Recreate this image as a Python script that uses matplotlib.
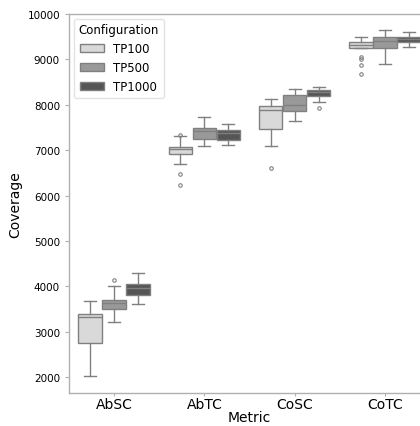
import matplotlib
matplotlib.use("Agg")
import matplotlib.pyplot as plt
from matplotlib.patches import Patch

metrics = ["AbSC", "AbTC", "CoSC", "CoTC"]
configs = ["TP100", "TP500", "TP1000"]
colors = ["#d9d9d9", "#999999", "#555555"]

# per configuration, per metric
whislo = {
    "TP100": [2020, 6700, 7100, 9250],
    "TP500": [3210, 7090, 7650, 8890],
    "TP1000": [3605, 7110, 8070, 9270],
}
q1 = {
    "TP100": [2745, 6920, 7460, 9255],
    "TP500": [3495, 7250, 7870, 9250],
    "TP1000": [3810, 7220, 8200, 9380],
}
med = {
    "TP100": [3325, 7015, 7895, 9315],
    "TP500": [3635, 7415, 7995, 9405],
    "TP1000": [3960, 7370, 8275, 9460],
}
q3 = {
    "TP100": [3385, 7075, 7975, 9375],
    "TP500": [3700, 7495, 8205, 9500],
    "TP1000": [4050, 7435, 8335, 9485],
}
whishi = {
    "TP100": [3675, 7310, 8130, 9500],
    "TP500": [4005, 7725, 8355, 9645],
    "TP1000": [4300, 7575, 8395, 9610],
}
fliers = {
    "TP100": [[], [7340, 6470, 6230], [6600], [9060, 9005, 8875, 8680]],
    "TP500": [[4130], [], [], []],
    "TP1000": [[], [], [7930], []],
}

fig = plt.figure(figsize=(4.2, 4.27), dpi=100)
fig.patch.set_facecolor("white")

ax = fig.add_axes([69 / 420, 33 / 427, 361 / 420, 379 / 427])

edge = "#808080"
bw = 0.8 / 3
for j, cfg in enumerate(configs):
    stats = []
    for i in range(len(metrics)):
        stats.append(dict(med=med[cfg][i], q1=q1[cfg][i], q3=q3[cfg][i],
                          whislo=whislo[cfg][i], whishi=whishi[cfg][i],
                          fliers=fliers[cfg][i]))
    pos = [i + (j - 1) * bw for i in range(len(metrics))]
    ax.bxp(stats, positions=pos, widths=bw * 0.98, patch_artist=True,
           boxprops=dict(facecolor=colors[j], edgecolor=edge, linewidth=1.0),
           medianprops=dict(color=edge, linewidth=1.0),
           whiskerprops=dict(color=edge, linewidth=1.0),
           capprops=dict(color=edge, linewidth=1.0),
           flierprops=dict(marker="o", markersize=2.5, markerfacecolor="none",
                           markeredgecolor=edge, markeredgewidth=0.8),
           capwidths=bw * 0.5, manage_ticks=False)

ax.set_xlim(-0.5, 3.5)
ax.set_ylim(1650, 10000)
ax.set_xticks(range(len(metrics)))
ax.set_xticklabels(metrics, fontsize=10)
ax.set_yticks([2000, 3000, 4000, 5000, 6000, 7000, 8000, 9000, 10000])
ax.tick_params(axis="y", labelsize=7.5, color="#b0b0b0", length=3)
ax.tick_params(axis="x", color="#b0b0b0", length=2, pad=1)
ax.set_xlabel("Metric", fontsize=10, labelpad=-1)
ax.set_ylabel("Coverage", fontsize=10, labelpad=4)
for s in ax.spines.values():
    s.set_color("#b0b0b0")
    s.set_linewidth(1.0)

handles = [Patch(facecolor=c, edgecolor=edge, linewidth=1.0) for c in colors]
leg = ax.legend(handles, configs, title="Configuration", loc="upper left",
                fontsize=8.5, title_fontsize=8.5, frameon=True,
                borderaxespad=0.4, handlelength=2.0)
leg.get_frame().set_edgecolor("#dddddd")

fig.savefig("out.png", dpi=100)
